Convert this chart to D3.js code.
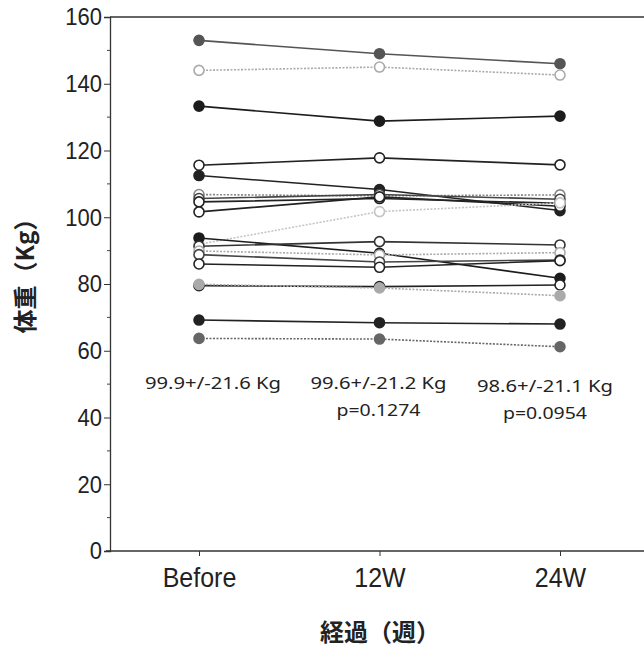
<!DOCTYPE html>
<html><head><meta charset="utf-8">
<script src="https://cdn.jsdelivr.net/npm/d3@7/dist/d3.min.js"></script>
<style>body{margin:0;background:#fff}svg{display:block}</style>
</head><body>
<svg id="c" width="644" height="649"></svg>
<script>
const categories = ["Before", "12W", "24W"];
const yTicks = [0, 20, 40, 60, 80, 100, 120, 140, 160];
// one array per subject: weight (Kg) at Before, 12W, 24W
const s01 = [153, 149, 146];
const s02 = [144, 145, 142.6];
const s03 = [133.3, 128.8, 130.3];
const s04 = [115.6, 117.8, 115.7];
const s05 = [112.5, 108.3, 102];
const s06 = [106.8, 106.4, 106.7];
const s07 = [105.6, 106.8, 105.4];
const s08 = [104.6, 105.6, 104.2];
const s09 = [101.6, 106.1, 103.3];
const s10 = [91.9, 101.7, 104.3];
const s11 = [93.8, 89.2, 81.7];
const s12 = [91.3, 92.7, 91.7];
const s13 = [89.9, 88.7, 89.4];
const s14 = [88.8, 86.6, 87.2];
const s15 = [86.0, 85.0, 87.0];
const s16 = [79.5, 79.2, 79.7];
const s17 = [79.9, 78.8, 76.5];
const s18 = [69.2, 68.4, 68.0];
const s19 = [63.7, 63.5, 61.2];
const subjects = [s01,s02,s03,s04,s05,s06,s07,s08,s09,s10,s11,s12,s13,s14,s15,s16,s17,s18,s19];
const meanLabels = ["99.9+/-21.6 Kg", "99.6+/-21.2 Kg", "98.6+/-21.1 Kg"];
const pLabels = ["", "p=0.1274", "p=0.0954"];

// styles (kept apart from data)
const styles = [
  {m:"fill", c:"#555", d:null},
  {m:"open", c:"#aaa", d:"2,1.5"},
  {m:"fill", c:"#1c1c1c", d:null},
  {m:"open", c:"#222", d:null},
  {m:"fill", c:"#222", d:null},
  {m:"open", c:"#888", d:"2,1.5"},
  {m:"open", c:"#444", d:null},
  {m:"open", c:"#222", d:null},
  {m:"open", c:"#222", d:null},
  {m:"open", c:"#c4c4c4", d:"2,1.5"},
  {m:"fill", c:"#1c1c1c", d:null},
  {m:"open", c:"#333", d:null},
  {m:"open", c:"#aaa", d:"2,1.5"},
  {m:"open", c:"#444", d:null},
  {m:"open", c:"#222", d:null},
  {m:"open", c:"#222", d:null},
  {m:"fill", c:"#aaa", d:"2,1.5"},
  {m:"fill", c:"#222", d:null},
  {m:"fill", c:"#666", d:"2,1.5"}
];

const svg = d3.select("#c");
const x = d3.scalePoint().domain(categories).range([199, 560]);
const y = d3.scaleLinear().domain([0, 160]).range([551, 17]);
const left = 110, right = 644;

// frame lines
svg.append("line").attr("x1", left).attr("x2", right).attr("y1", y(160)).attr("y2", y(160))
  .attr("stroke", "#333").attr("stroke-width", 1.3);

// y axis
const yAx = svg.append("g").attr("transform", `translate(${left},0)`)
  .call(d3.axisLeft(y).tickValues(yTicks).tickSize(6).tickPadding(2).tickFormat(d3.format("d")));
yAx.select(".domain").attr("stroke", "#333").attr("stroke-width", 1.3);
yAx.selectAll(".tick line").attr("stroke", "#333");
yAx.selectAll("text").attr("font-family", "Liberation Sans, Arial, sans-serif")
  .attr("font-size", 22).attr("fill", "#222").attr("transform", "scale(1,1.12)");
// minor ticks
const minor = d3.range(10, 160, 20);
svg.append("g").selectAll("line").data(minor).join("line")
  .attr("x1", left - 3).attr("x2", left).attr("y1", d => y(d)).attr("y2", d => y(d))
  .attr("stroke", "#444");

// x axis
const xAx = svg.append("g").attr("transform", `translate(0,${y(0)})`)
  .call(d3.axisBottom(x).tickSize(5).tickPadding(10));
xAx.select(".domain").remove();
svg.append("line").attr("x1", left - 4).attr("x2", right).attr("y1", y(0)).attr("y2", y(0))
  .attr("stroke", "#333").attr("stroke-width", 1.3);
xAx.selectAll(".tick line").attr("stroke", "#333");
xAx.selectAll("text").attr("font-family", "Liberation Sans, Arial, sans-serif")
  .attr("font-size", 25).attr("fill", "#222").attr("transform", "scale(1,1.1)");

// titles
svg.append("text").attr("x", 380).attr("y", 641).attr("text-anchor", "middle")
  .attr("font-family", "Noto Sans CJK JP, sans-serif").attr("font-weight", "bold")
  .attr("font-size", 24).attr("fill", "#222").text("経過（週）");
svg.append("text").attr("transform", "translate(34,270) rotate(-90)").attr("text-anchor", "middle")
  .attr("font-family", "Noto Sans CJK JP, sans-serif").attr("font-weight", "bold")
  .attr("font-size", 24).attr("fill", "#222").text("体重（Kg）");

// lines
const line = d3.line().x((d, i) => x(categories[i])).y(d => y(d));
const g = svg.append("g");
subjects.forEach((s, k) => {
  const st = styles[k];
  g.append("path").attr("d", line(s)).attr("fill", "none")
    .attr("stroke", st.c).attr("stroke-width", 1.6)
    .attr("stroke-dasharray", st.d);
});
subjects.forEach((s, k) => {
  const st = styles[k];
  g.append("g").selectAll("circle").data(s).join("circle")
    .attr("cx", (d, i) => x(categories[i])).attr("cy", d => y(d)).attr("r", 5)
    .attr("fill", st.m === "fill" ? st.c : "#fff")
    .attr("stroke", st.c).attr("stroke-width", 1.6);
});

// annotations
const offs = [14, -1, -15];
const mBase = [389, 389, 392];
const pBase = [0, 416, 419];
categories.forEach((c, i) => {
  svg.append("text").attr("x", x(c) + offs[i]).attr("y", mBase[i]).attr("text-anchor", "middle")
    .attr("font-family", "Noto Sans, DejaVu Sans, sans-serif").attr("font-size", 17)
    .attr("fill", "#222").attr("textLength", 136).attr("lengthAdjust", "spacingAndGlyphs")
    .text(meanLabels[i]);
  if (pLabels[i]) svg.append("text").attr("x", x(c) + offs[i]).attr("y", pBase[i]).attr("text-anchor", "middle")
    .attr("font-family", "Noto Sans, DejaVu Sans, sans-serif").attr("font-size", 17)
    .attr("fill", "#222").attr("textLength", 84).attr("lengthAdjust", "spacingAndGlyphs")
    .text(pLabels[i]);
});
</script>
</body></html>
